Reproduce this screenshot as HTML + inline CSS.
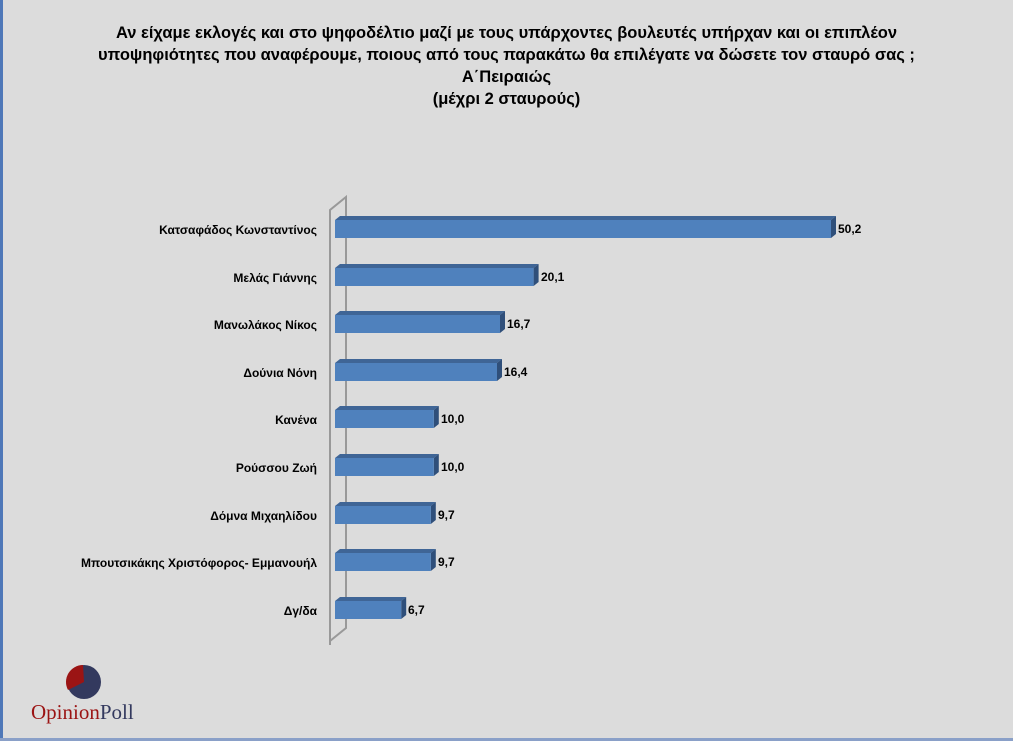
<!DOCTYPE html>
<html><head><meta charset="utf-8"><style>
body{margin:0;width:1013px;height:741px;background:#dcdcdc;overflow:hidden;font-family:"Liberation Sans","DejaVu Sans",sans-serif;position:relative}
.t{position:absolute;left:0;width:1013px;top:22px;text-align:center;font-weight:bold;font-size:16.5px;line-height:22px;color:#000}
</style></head><body>
<div style="position:absolute;left:0;top:0;width:3px;height:741px;background:#4f78b8"></div>
<div style="position:absolute;left:0;top:738px;width:1013px;height:3px;background:#8aa0c8"></div>
<div class="t">Αν είχαμε εκλογές και στο ψηφοδέλτιο μαζί με τους υπάρχοντες βουλευτές υπήρχαν και οι επιπλέον<br>υποψηφιότητες που αναφέρουμε, ποιους από τους παρακάτω θα επιλέγατε να δώσετε τον σταυρό σας ;<br>Α΄Πειραιώς<br>(μέχρι 2 σταυρούς)</div>
<svg width="1013" height="741" style="position:absolute;left:0;top:0" font-family="Liberation Sans, DejaVu Sans, sans-serif" font-size="12" font-weight="bold">
<path d="M330 645 L330 210 L346 197 L346 628 L330 641" stroke="#999" stroke-width="2" fill="none"/>
<g text-anchor="end">
<text x="317" y="234">Κατσαφάδος Κωνσταντίνος</text>
<text x="317" y="282">Μελάς Γιάννης</text>
<text x="317" y="329">Μανωλάκος Νίκος</text>
<text x="317" y="377">Δούνια Νόνη</text>
<text x="317" y="424">Κανένα</text>
<text x="317" y="472">Ρούσσου Ζωή</text>
<text x="317" y="520">Δόμνα Μιχαηλίδου</text>
<text x="317" y="567">Μπουτσικάκης Χριστόφορος- Εμμανουήλ</text>
<text x="317" y="615">Δγ/δα</text>
</g>
<g>
<polygon points="335,220 340,216 836,216 831,220" fill="#3f6596"/><polygon points="831,220 836,216 836,234 831,238" fill="#2f4f7a"/><rect x="335" y="220" width="496" height="18" fill="#4f81bd"/><text x="838" y="233">50,2</text>
<polygon points="335,268 340,264 538.6,264 533.6,268" fill="#3f6596"/><polygon points="533.6,268 538.6,264 538.6,282 533.6,286" fill="#2f4f7a"/><rect x="335" y="268" width="198.6" height="18" fill="#4f81bd"/><text x="541" y="281">20,1</text>
<polygon points="335,315 340,311 505,311 500,315" fill="#3f6596"/><polygon points="500,315 505,311 505,329 500,333" fill="#2f4f7a"/><rect x="335" y="315" width="165" height="18" fill="#4f81bd"/><text x="507" y="328">16,7</text>
<polygon points="335,363 340,359 502,359 497,363" fill="#3f6596"/><polygon points="497,363 502,359 502,377 497,381" fill="#2f4f7a"/><rect x="335" y="363" width="162" height="18" fill="#4f81bd"/><text x="504" y="376">16,4</text>
<polygon points="335,410 340,406 438.8,406 433.8,410" fill="#3f6596"/><polygon points="433.8,410 438.8,406 438.8,424 433.8,428" fill="#2f4f7a"/><rect x="335" y="410" width="98.8" height="18" fill="#4f81bd"/><text x="441" y="423">10,0</text>
<polygon points="335,458 340,454 438.8,454 433.8,458" fill="#3f6596"/><polygon points="433.8,458 438.8,454 438.8,472 433.8,476" fill="#2f4f7a"/><rect x="335" y="458" width="98.8" height="18" fill="#4f81bd"/><text x="441" y="471">10,0</text>
<polygon points="335,506 340,502 435.8,502 430.8,506" fill="#3f6596"/><polygon points="430.8,506 435.8,502 435.8,520 430.8,524" fill="#2f4f7a"/><rect x="335" y="506" width="95.8" height="18" fill="#4f81bd"/><text x="438" y="519">9,7</text>
<polygon points="335,553 340,549 435.8,549 430.8,553" fill="#3f6596"/><polygon points="430.8,553 435.8,549 435.8,567 430.8,571" fill="#2f4f7a"/><rect x="335" y="553" width="95.8" height="18" fill="#4f81bd"/><text x="438" y="566">9,7</text>
<polygon points="335,601 340,597 406.2,597 401.2,601" fill="#3f6596"/><polygon points="401.2,601 406.2,597 406.2,615 401.2,619" fill="#2f4f7a"/><rect x="335" y="601" width="66.2" height="18" fill="#4f81bd"/><text x="408" y="614">6,7</text>
</g>
<circle cx="84" cy="682" r="17" fill="#33395e"/>
<path d="M84 682 L83 665 A17 17 0 0 0 68 690 Z" fill="#9b1414"/>
<text x="31" y="719" font-family="Liberation Serif, serif" font-weight="normal" font-size="21" fill="#9b1414">Opinion<tspan fill="#33395e">Poll</tspan></text>
</svg>
</body></html>
